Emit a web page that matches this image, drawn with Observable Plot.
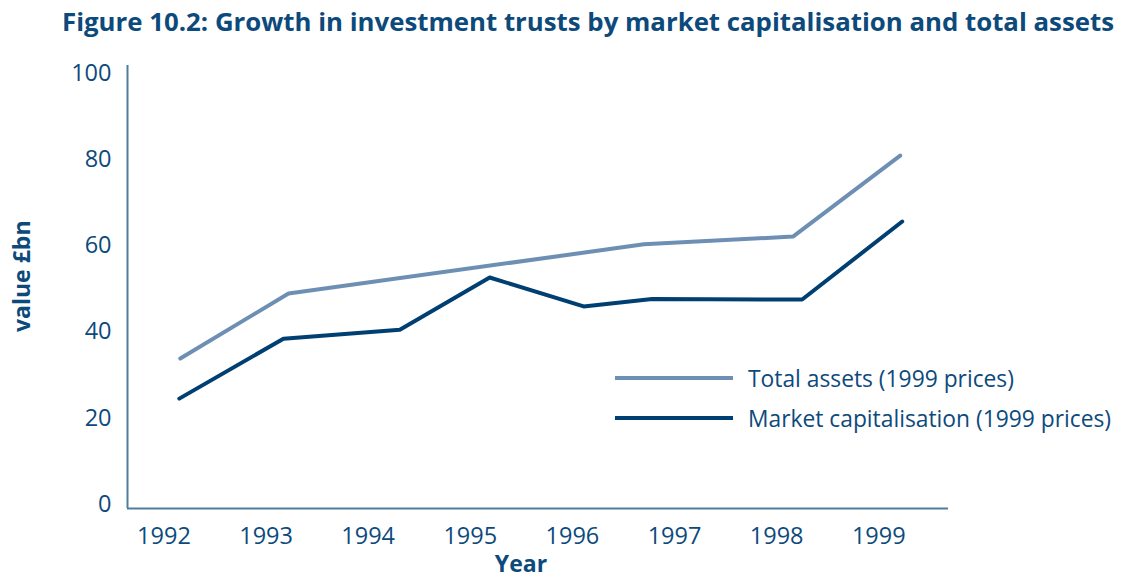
<!DOCTYPE html>
<html><head><meta charset="utf-8">
<script src="https://cdn.jsdelivr.net/npm/d3@7"></script>
<script src="https://cdn.jsdelivr.net/npm/@observablehq/plot@0.6"></script>
<style>
body{margin:0;background:#fff;font-family:"Open Sans",sans-serif;}
#wrap{position:relative;width:1137px;height:578px;overflow:hidden;}
#title{position:absolute;left:62px;top:0;height:45px;line-height:42px;font-size:25.8px;font-weight:bold;color:#0d4a7c;white-space:nowrap;}
#chart{position:absolute;left:0;top:45px;}
#legend{position:absolute;left:615px;top:358px;color:#0d4a7c;font-size:22.8px;}
.row{display:flex;align-items:center;height:40px;white-space:nowrap;}
.sw{width:118px;height:4px;margin-right:15px;}
</style>
</head><body>
<div id="wrap">
<div id="title">Figure 10.2: Growth in investment trusts by market capitalisation and total assets</div>
<div id="chart"></div>
<div id="legend"></div>
</div>
<script>
const years = [1992, 1993, 1994, 1995, 1996, 1997, 1998, 1999];
const yTicks = [0, 20, 40, 60, 80, 100];
const seriesNames = ["Total assets (1999 prices)", "Market capitalisation (1999 prices)"];
const totalYears = [1992.16, 1993.22, 1996.70, 1998.16, 1999.21];
const totalValues = [33.8, 48.9, 60.3, 62.1, 80.9];
const marketYears = [1992.15, 1993.17, 1994.31, 1995.19, 1996.11, 1996.78, 1998.25, 1999.23];
const marketValues = [24.5, 38.4, 40.5, 52.6, 45.9, 47.6, 47.5, 65.6];

const colors = ["#6e8fb4", "#003f72"];
const textColor = "#0d4a7c";
const axisColor = "#4f7d9c";
const xDomain = [1991.643, 1999.683];
const yDomain = [-1, 101.8];

const total = totalYears.map((x, i) => ({x, y: totalValues[i]}));
const market = marketYears.map((x, i) => ({x, y: marketValues[i]}));

const chart = Plot.plot({
  width: 1137,
  height: 533,
  marginLeft: 127,
  marginRight: 189,
  marginTop: 20,
  marginBottom: 70,
  style: {fontFamily: "'Open Sans', sans-serif", fontSize: "23.5px", color: textColor, background: "#fff"},
  x: {domain: xDomain, ticks: years, tickFormat: d => String(d), tickSize: 0, tickPadding: 19, label: null},
  y: {domain: yDomain, ticks: yTicks, tickSize: 0, tickPadding: 16, label: null},
  marks: [
    Plot.ruleX([xDomain[0]], {stroke: axisColor, strokeWidth: 2}),
    Plot.ruleY([yDomain[0]], {stroke: axisColor, strokeWidth: 2}),
    Plot.line(total, {x: "x", y: "y", stroke: colors[0], strokeWidth: 4}),
    Plot.line(market, {x: "x", y: "y", stroke: colors[1], strokeWidth: 4}),
    Plot.text(["Year"], {frameAnchor: "bottom", dx: -17, dy: 63, fontWeight: "bold", fontSize: 23, fill: textColor}),
    Plot.text(["value £bn"], {frameAnchor: "left", dx: -105, dy: 45, rotate: -90, fontWeight: "bold", fontSize: 23, fill: textColor})
  ]
});
document.getElementById("chart").appendChild(chart);

const legend = document.getElementById("legend");
seriesNames.forEach((name, i) => {
  const row = document.createElement("div");
  row.className = "row";
  const sw = document.createElement("div");
  sw.className = "sw";
  sw.style.background = colors[i];
  const t = document.createElement("span");
  t.textContent = name;
  row.appendChild(sw);
  row.appendChild(t);
  legend.appendChild(row);
});
</script>
</body></html>
